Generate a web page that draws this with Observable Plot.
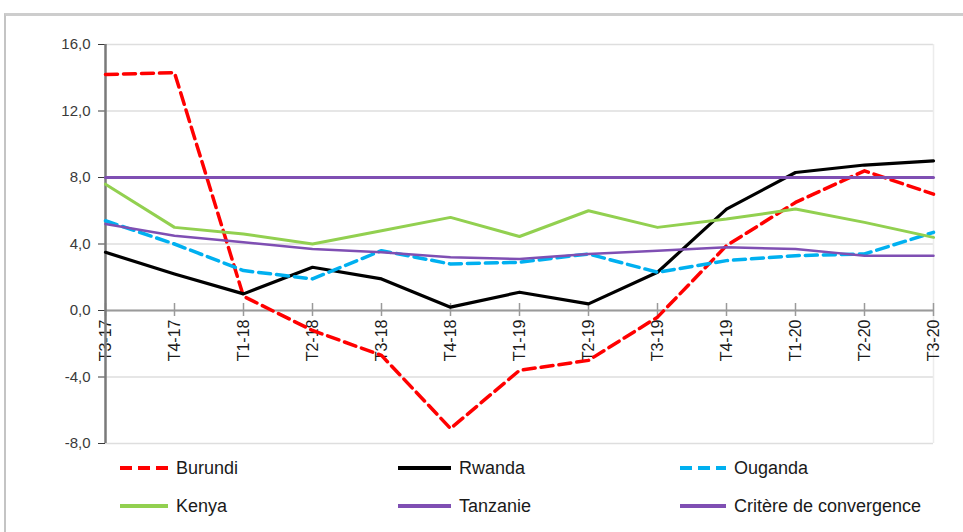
<!DOCTYPE html>
<html>
<head>
<meta charset="utf-8">
<script src="https://cdn.jsdelivr.net/npm/d3@7"></script>
<script src="https://cdn.jsdelivr.net/npm/@observablehq/plot@0.6"></script>
<style>
  html, body { margin: 0; padding: 0; background: #fff; width: 963px; height: 532px; overflow: hidden; }
  body { position: relative; font-family: "Liberation Sans", Arial, sans-serif; }
  #frame { position: absolute; left: 4px; top: 13px; width: 1100px; height: 700px;
           border-top: 3px solid #cdcdcd; border-left: 2px solid #c4c4c4; }
  #chart { position: absolute; left: 0; top: 0; }
  .leg { position: absolute; display: flex; align-items: center; font-size: 18px; color: #1a1a1a; white-space: nowrap; }
  .leg svg { margin-right: 8px; }
</style>
</head>
<body>
<div id="frame"></div>
<div id="chart"></div>
<div id="legend"></div>
<script>
const quarters = ["T3-17","T4-17","T1-18","T2-18","T3-18","T4-18","T1-19","T2-19","T3-19","T4-19","T1-20","T2-20","T3-20"];
const burundi  = [14.2, 14.3, 0.85, -1.2, -2.7, -7.1, -3.6, -3.0, -0.4, 3.9, 6.5, 8.4, 7.0];
const rwanda   = [3.5, 2.2, 1.0, 2.6, 1.9, 0.2, 1.1, 0.4, 2.3, 6.1, 8.3, 8.75, 9.0];
const ouganda  = [5.4, 4.0, 2.4, 1.9, 3.6, 2.8, 2.9, 3.4, 2.3, 3.0, 3.3, 3.4, 4.7];
const kenya    = [7.6, 5.0, 4.6, 4.0, 4.8, 5.6, 4.45, 6.0, 5.0, 5.5, 6.1, 5.3, 4.4];
const tanzanie = [5.2, 4.5, 4.1, 3.7, 3.5, 3.2, 3.1, 3.4, 3.6, 3.8, 3.7, 3.3, 3.3];
const critere  = [8.0, 8.0, 8.0, 8.0, 8.0, 8.0, 8.0, 8.0, 8.0, 8.0, 8.0, 8.0, 8.0];
const yTicks = [-8, -4, 0, 4, 8, 12, 16];

const series = [
  {name: "Burundi", values: burundi, color: "#ff0000", width: 3.5, dash: "12,6"},
  {name: "Rwanda", values: rwanda, color: "#000000", width: 3.2, dash: null},
  {name: "Ouganda", values: ouganda, color: "#00b0f0", width: 3.5, dash: "12,6"},
  {name: "Kenya", values: kenya, color: "#92d050", width: 3, dash: null},
  {name: "Tanzanie", values: tanzanie, color: "#7f4fb3", width: 2.5, dash: null},
  {name: "Critère de convergence", values: critere, color: "#7f4fb3", width: 3, dash: null}
];

const fmt = d => d.toFixed(1).replace(".", ",");

const lineMarks = series.map(s => Plot.line(
  quarters.map((q, i) => ({q, v: s.values[i]})),
  {x: "q", y: "v", stroke: s.color, strokeWidth: s.width,
   strokeDasharray: s.dash || undefined, strokeLinejoin: "round"}
));

const chart = Plot.plot({
  width: 963,
  height: 460,
  marginTop: 44,
  marginBottom: 17,
  marginLeft: 105,
  marginRight: 30,
  style: {fontFamily: "Liberation Sans, Arial, sans-serif", fontSize: "15px", color: "#3a3a3a", background: "transparent"},
  x: {type: "point", domain: quarters, padding: 0, axis: null},
  y: {domain: [-8, 16], ticks: yTicks, tickFormat: fmt, tickSize: 7, tickPadding: 8, label: null},
  marks: [
    Plot.ruleY(yTicks, {stroke: "#dedede", strokeWidth: 1.5}),
    Plot.ruleX([quarters[quarters.length - 1]], {stroke: "#ececec", strokeWidth: 1.5}),
    Plot.ruleY([0], {stroke: "#9a9a9a", strokeWidth: 2}),
    Plot.ruleX(quarters, {x: d => d, y1: 0, y2: 0, insetTop: -7, insetBottom: -6, stroke: "#9a9a9a", strokeWidth: 1.5}),
    Plot.text(quarters, {x: d => d, y: 0, text: d => d, rotate: -90, textAnchor: "end", dy: 9,
      fill: "#1a1a1a", fontSize: 16}),
    Plot.ruleX([quarters[0]], {stroke: "#7a7a7a", strokeWidth: 2.5}),
    ...lineMarks
  ]
});
document.getElementById("chart").appendChild(chart);

// Legend (HTML, below the plot area)
const legend = document.getElementById("legend");
const legPos = [
  {left: 120, top: 468}, {left: 398, top: 468}, {left: 680, top: 468},
  {left: 120, top: 506}, {left: 398, top: 506}, {left: 680, top: 506}
];
const sampleW = [48, 53, 46, 48, 53, 46];
series.forEach((s, i) => {
  const div = document.createElement("div");
  div.className = "leg";
  div.style.left = legPos[i].left + "px";
  div.style.top = (legPos[i].top - 12) + "px";
  div.style.height = "24px";
  const w = sampleW[i];
  div.innerHTML = `<svg width="${w}" height="10"><line x1="0" y1="5" x2="${w}" y2="5" stroke="${s.color}" stroke-width="4" ${s.dash ? `stroke-dasharray="12,6"` : ""}/></svg><span>${s.name}</span>`;
  legend.appendChild(div);
});
</script>
</body>
</html>
